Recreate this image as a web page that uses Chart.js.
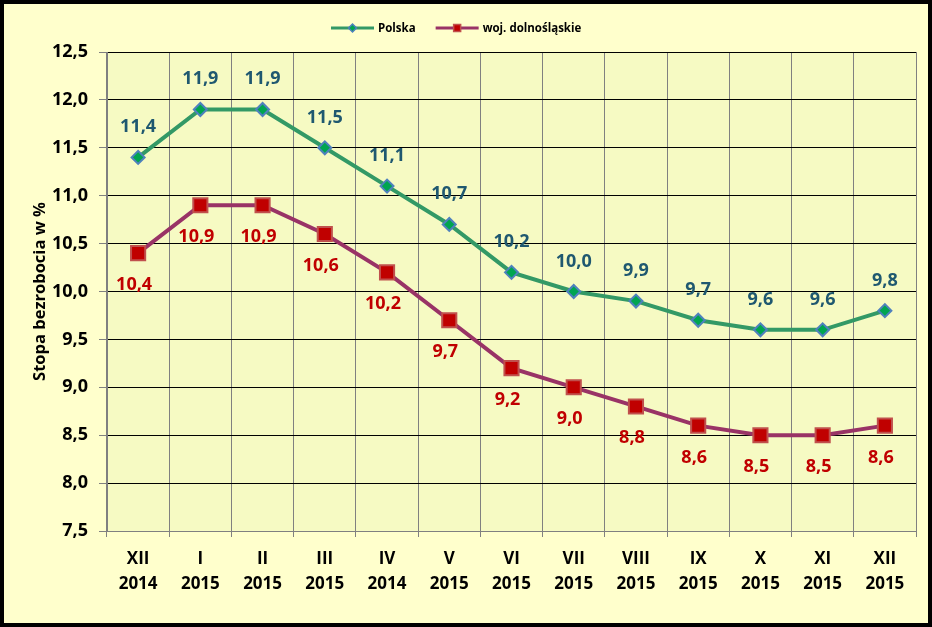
<!DOCTYPE html>
<html>
<head>
<meta charset="utf-8">
<script src="https://cdn.jsdelivr.net/npm/chart.js@4/dist/chart.umd.min.js"></script>
<style>
  html, body { margin: 0; padding: 0; background: #000; }
  #frame { position: absolute; left: 4px; top: 4px; width: 924px; height: 619px; background: #FFFFCC; }
</style>
</head>
<body>
<div id="frame"><canvas id="unempChart"></canvas></div>
<script>
const months = [
  ['XII', '2014'], ['I', '2015'], ['II', '2015'], ['III', '2015'], ['IV', '2014'],
  ['V', '2015'], ['VI', '2015'], ['VII', '2015'], ['VIII', '2015'], ['IX', '2015'],
  ['X', '2015'], ['XI', '2015'], ['XII', '2015'],
];
const polska = [11.4, 11.9, 11.9, 11.5, 11.1, 10.7, 10.2, 10.0, 9.9, 9.7, 9.6, 9.6, 9.8];
const dolnoslaskie = [10.4, 10.9, 10.9, 10.6, 10.2, 9.7, 9.2, 9.0, 8.8, 8.6, 8.5, 8.5, 8.6];
const yMin = 7.5;
const yMax = 12.5;
const yStep = 0.5;

const FONT = "'Open Sans', 'DejaVu Sans', sans-serif";
const fmt = (v) => v.toFixed(1).replace('.', ',');

// plot area fill
const plotBg = {
  id: 'plotBg',
  beforeDraw(chart) {
    const { ctx, chartArea: a } = chart;
    ctx.save();
    ctx.fillStyle = '#F6FAC3';
    ctx.fillRect(a.left, a.top, a.right - a.left, a.bottom - a.top);
    ctx.restore();
  },
};

// value labels next to points
const valueLabels = {
  id: 'valueLabels',
  afterDatasetsDraw(chart) {
    const { ctx } = chart;
    ctx.save();
    ctx.font = 'bold 18px ' + FONT;
    ctx.textAlign = 'center';
    ctx.textBaseline = 'alphabetic';
    chart.data.datasets.forEach((ds, i) => {
      const meta = chart.getDatasetMeta(i);
      ctx.fillStyle = ds.labelColor;
      meta.data.forEach((pt, j) => {
        ctx.fillText(fmt(ds.data[j]), pt.x + ds.labelDx, pt.y + ds.labelDy);
      });
    });
    ctx.restore();
  },
};

// legend with line + marker
const lineLegend = {
  id: 'lineLegend',
  afterDraw(chart) {
    const { ctx } = chart;
    let x = 327;
    const y = 24;
    ctx.save();
    ctx.font = 'bold 11.5px ' + FONT;
    ctx.textBaseline = 'middle';
    chart.data.datasets.forEach((ds) => {
      ctx.strokeStyle = ds.borderColor;
      ctx.lineWidth = 3;
      ctx.beginPath();
      ctx.moveTo(x, y);
      ctx.lineTo(x + 43, y);
      ctx.stroke();
      const cx = x + 21.5;
      ctx.fillStyle = ds.pointBackgroundColor;
      ctx.strokeStyle = ds.pointBorderColor;
      ctx.lineWidth = 1.5;
      ctx.beginPath();
      if (ds.pointStyle === 'rectRot') {
        ctx.moveTo(cx, y - 4);
        ctx.lineTo(cx + 4, y);
        ctx.lineTo(cx, y + 4);
        ctx.lineTo(cx - 4, y);
        ctx.closePath();
      } else {
        ctx.rect(cx - 3.5, y - 3.5, 7, 7);
      }
      ctx.fill();
      ctx.stroke();
      ctx.fillStyle = '#000';
      ctx.fillText(ds.label, x + 47, y + 1);
      x += 47 + ctx.measureText(ds.label).width + 20;
    });
    ctx.restore();
  },
};

const ctx = document.getElementById('unempChart').getContext('2d');
new Chart(ctx, {
  type: 'line',
  data: {
    labels: months,
    datasets: [
      {
        label: 'Polska',
        data: polska,
        borderColor: '#339966',
        borderWidth: 4,
        pointStyle: 'rectRot',
        pointRadius: 6.5,
        pointBackgroundColor: '#00A550',
        pointBorderColor: '#4F81BD',
        pointBorderWidth: 2,
        tension: 0,
        labelColor: '#1F5870',
        labelDx: 0,
        labelDy: -25,
      },
      {
        label: 'woj. dolnośląskie',
        data: dolnoslaskie,
        borderColor: '#993366',
        borderWidth: 4,
        pointStyle: 'rect',
        pointRadius: 10,
        pointBackgroundColor: '#C00000',
        pointBorderColor: '#C0504D',
        pointBorderWidth: 2,
        tension: 0,
        labelColor: '#C00000',
        labelDx: -4,
        labelDy: 37,
      },
    ],
  },
  options: {
    responsive: true,
    maintainAspectRatio: false,
    animation: false,
    devicePixelRatio: 1,
    layout: {
      padding: { top: 48, right: 11, left: 0, bottom: 0 },
    },
    plugins: {
      legend: { display: false },
      tooltip: { enabled: false },
    },
    scales: {
      x: {
        offset: true,
        afterFit: (scale) => { scale.height = 92; },
        grid: {
          offset: true,
          color: '#808080',
          tickColor: '#808080',
          tickLength: 6,
        },
        border: { color: '#808080' },
        ticks: {
          color: '#000',
          autoSkip: false,
          maxRotation: 0,
          padding: 10,
          font: { family: FONT, size: 17, weight: 'bold', lineHeight: 1.45 },
        },
      },
      y: {
        min: yMin,
        max: yMax,
        afterFit: (scale) => { scale.width = 103; },
        title: {
          display: true,
          text: 'Stopa bezrobocia w %',
          color: '#000',
          padding: { top: 26, bottom: 0 },
          font: { family: FONT, size: 16.5, weight: 'bold' },
        },
        grid: {
          color: '#000',
          tickColor: '#808080',
          tickLength: 8,
        },
        border: { color: '#808080' },
        ticks: {
          stepSize: yStep,
          color: '#000',
          padding: 11,
          font: { family: FONT, size: 18, weight: 'bold' },
          callback: (v) => fmt(v),
        },
      },
    },
  },
  plugins: [plotBg, valueLabels, lineLegend],
});
</script>
</body>
</html>
